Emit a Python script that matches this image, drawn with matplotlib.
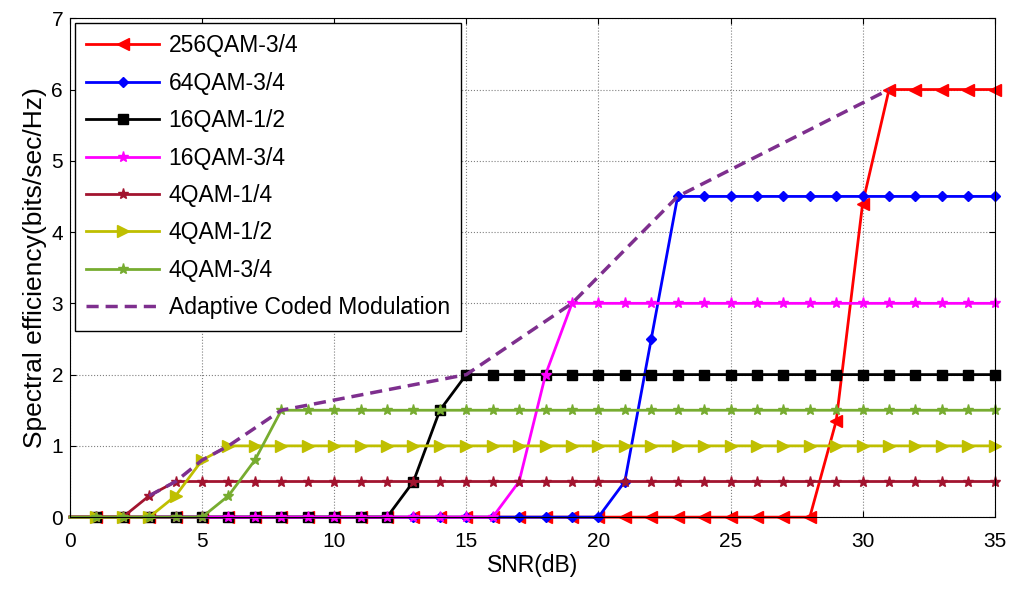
import numpy as np
import matplotlib
matplotlib.use('Agg')
from matplotlib import pyplot as plt

plt.rcParams['font.family'] = ['Liberation Sans', 'DejaVu Sans']

snr = np.arange(0, 36)
qam256_34 = [0]*29 + [1.35, 4.4] + [6]*5
qam64_34 = [0]*21 + [0.5, 2.5] + [4.5]*13
qam16_12 = [0]*13 + [0.5, 1.5] + [2]*21
qam16_34 = [0]*17 + [0.5, 2.0] + [3]*17
qam4_14 = [0]*3 + [0.3] + [0.5]*32
qam4_12 = [0]*4 + [0.3, 0.8] + [1]*30
qam4_34 = [0]*6 + [0.3, 0.8] + [1.5]*28

acm_snr = [3, 4, 5, 6, 8, 15, 19, 23, 31]
acm_eff = [0.3, 0.5, 0.8, 1.0, 1.5, 2.0, 3.0, 4.5, 6.0]

fig = plt.figure(figsize=(10.14, 5.89), dpi=100)
ax = fig.add_axes([0.069, 0.122, 0.912, 0.847])

me = slice(1, None)
kw = dict(lw=2, markevery=me, clip_on=False)
ax.plot(snr, qam256_34, color='#ff0000', marker='<', ms=8, label='256QAM-3/4', **kw)
ax.plot(snr, qam64_34, color='#0000ff', marker='D', ms=5.5, label='64QAM-3/4', **kw)
ax.plot(snr, qam16_12, color='black', marker='s', ms=7, label='16QAM-1/2', **kw)
ax.plot(snr, qam16_34, color='#ff00ff', marker='*', ms=8, label='16QAM-3/4', **kw)
ax.plot(snr, qam4_14, color='#a2142f', marker='*', ms=8, label='4QAM-1/4', **kw)
ax.plot(snr, qam4_12, color='#bfbf00', marker='>', ms=8, label='4QAM-1/2', **kw)
ax.plot(snr, qam4_34, color='#77ac30', marker='*', ms=8, label='4QAM-3/4', **kw)
ax.plot(acm_snr, acm_eff, color='#7e2f8e', lw=2.5, ls='--', dashes=(3.5, 2), label='Adaptive Coded Modulation')

ax.set_xlim(0, 35)
ax.set_ylim(0, 7)
ax.set_xticks(range(0, 36, 5))
ax.set_yticks(range(0, 8))
ax.grid(True, ls=':', color='#808080', lw=0.8)
ax.tick_params(direction='in', top=True, right=True, labelsize=15, length=4, pad=5)
ax.tick_params(axis='x', pad=11)
ax.set_xlabel('SNR(dB)', fontsize=16.5, labelpad=2)
ax.set_ylabel('Spectral efficiency(bits/sec/Hz)', fontsize=19, labelpad=3)

leg = ax.legend(loc='upper left', fontsize=16.5, fancybox=False, framealpha=1,
                edgecolor='black', handlelength=3.2, handletextpad=0.4,
                borderaxespad=0.2, labelspacing=0.63, borderpad=0.5)
leg.get_frame().set_linewidth(1)

fig.savefig('out.png', dpi=100)
